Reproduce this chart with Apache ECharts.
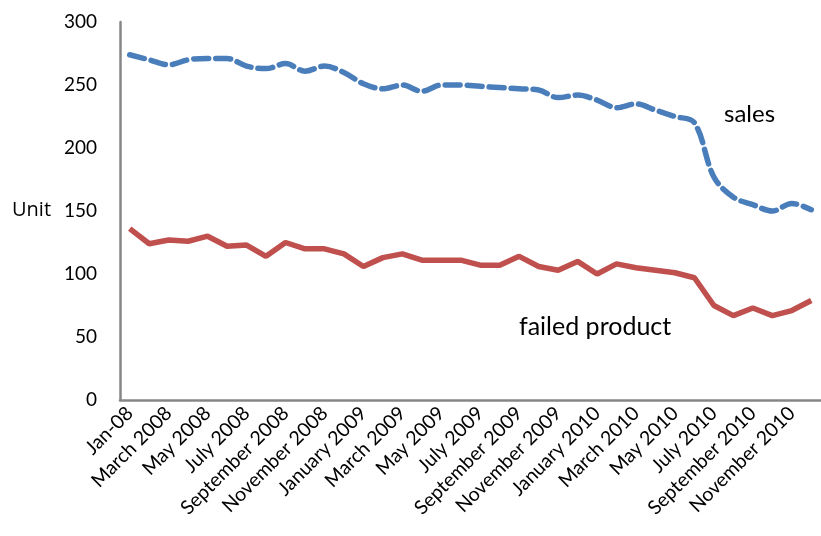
<!DOCTYPE html>
<html><head><meta charset="utf-8">
<script src="https://cdn.jsdelivr.net/npm/echarts@6/dist/echarts.min.js"></script>
<style>html,body{margin:0;padding:0;background:#fff}#c{width:821px;height:536px}</style>
</head><body><div id="c"></div>
<script>
const months = ["Jan-08","February 2008","March 2008","April 2008","May 2008","June 2008","July 2008","August 2008","September 2008","October 2008","November 2008","December 2008",
"January 2009","February 2009","March 2009","April 2009","May 2009","June 2009","July 2009","August 2009","September 2009","October 2009","November 2009","December 2009",
"January 2010","February 2010","March 2010","April 2010","May 2010","June 2010","July 2010","August 2010","September 2010","October 2010","November 2010","December 2010"];
const sales = [274,270,266,270,271,271,265,263,267,261,265,260,251,247,250,245,250,250,249,248,247,246,240,242,238,232,235,230,225,220,177,161,155,150,156,151];
const failed = [136,124,127,126,130,122,123,114,125,120,120,116,106,113,116,111,111,111,107,107,114,106,103,110,100,108,105,103,101,97,75,67,73,67,71,79];
const yTicks = {min:0, max:300, interval:50};

const chart = echarts.init(document.getElementById('c'));
const font = 'Lato, "Open Sans", sans-serif';
chart.setOption({
  animation:false,
  grid:{left:120, right:-9, top:22, bottom:136, containLabel:false},
  xAxis:{type:'category', data:months, boundaryGap:true,
    axisLine:{lineStyle:{color:'#868686', width:2.5}},
    axisTick:{show:false},
    axisLabel:{interval:1, rotate:45, fontSize:19.5, color:'#000', fontFamily:font, margin:10}},
  yAxis:{type:'value', min:yTicks.min, max:yTicks.max, interval:yTicks.interval,
    axisLine:{show:true, lineStyle:{color:'#868686', width:2.5}},
    axisTick:{show:false},
    splitLine:{show:false},
    axisLabel:{fontSize:19, color:'#000', fontFamily:font, margin:23}},
  series:[
    {name:'sales', type:'line', data:sales, smooth:0.35, symbol:'none',
     lineStyle:{color:'#4A7EBB', width:5.5, type:[15,7], cap:'round'}},
    {name:'failed product', type:'line', data:failed, smooth:false, symbol:'none',
     lineStyle:{color:'#C0504D', width:5.5}}
  ],
  graphic:[
    {type:'text', left:12, top:200, style:{text:'Unit', fontSize:20, fill:'#000', fontFamily:'"Open Sans", sans-serif'}},
    {type:'text', left:724, top:102, style:{text:'sales', fontSize:24, fill:'#000', fontFamily:font}},
    {type:'text', left:519, top:314, style:{text:'failed product', fontSize:25, fill:'#000', fontFamily:font}}
  ]
});
</script></body></html>
